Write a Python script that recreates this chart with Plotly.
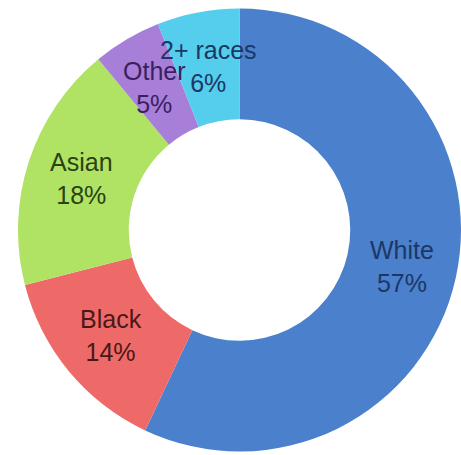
import math
import plotly.graph_objects as go

labels = ["White", "Black", "Asian", "Other", "2+ races"]
values = [57, 14, 18, 5, 6]
colors = ["#4b80cc", "#ee6a68", "#b0e264", "#a77fd8", "#55cdec"]
text_colors = ["#1c3766", "#4a1818", "#2a4214", "#3b2060", "#1c3766"]

W, H = 461, 455
HOLE = 0.5
dom_x = [18 / W, 1.0]
dom_y = [3 / H, 447 / H]

fig = go.Figure(go.Pie(
    labels=labels,
    values=values,
    sort=False,
    direction="clockwise",
    rotation=0,
    hole=HOLE,
    marker=dict(colors=colors, line=dict(width=0)),
    textinfo="none",
    hoverinfo="label+percent",
    showlegend=False,
    domain=dict(x=dom_x, y=dom_y),
))

# label positions derived from the data (mid-angle, mid-ring)
cx_px = (dom_x[0] + dom_x[1]) / 2 * W
cy_px = (dom_y[0] + dom_y[1]) / 2 * H
R_px = min((dom_x[1] - dom_x[0]) * W, (dom_y[1] - dom_y[0]) * H) / 2
r_mid = R_px * (1 + HOLE) / 2
total = sum(values)
cum = 0
annotations = []
for lab, v, tc in zip(labels, values, text_colors):
    mid = (cum + v / 2) / total * 2 * math.pi
    cum += v
    x = (cx_px + r_mid * math.sin(mid)) / W
    y = (cy_px + r_mid * math.cos(mid)) / H
    pct = round(v / total * 100)
    annotations.append(dict(
        x=x, y=y, xref="paper", yref="paper",
        text=f"{lab}<br>{pct}%", showarrow=False,
        xanchor="center", yanchor="middle",
        font=dict(family="Liberation Sans, Arial, sans-serif", size=25, color=tc),
    ))

fig.update_layout(
    width=W, height=H,
    margin=dict(l=0, r=0, t=0, b=0),
    paper_bgcolor="white",
    plot_bgcolor="white",
    annotations=annotations,
)

fig.write_html("out.html", config={"displayModeBar": False},
               post_script="document.body.style.margin='0';")
